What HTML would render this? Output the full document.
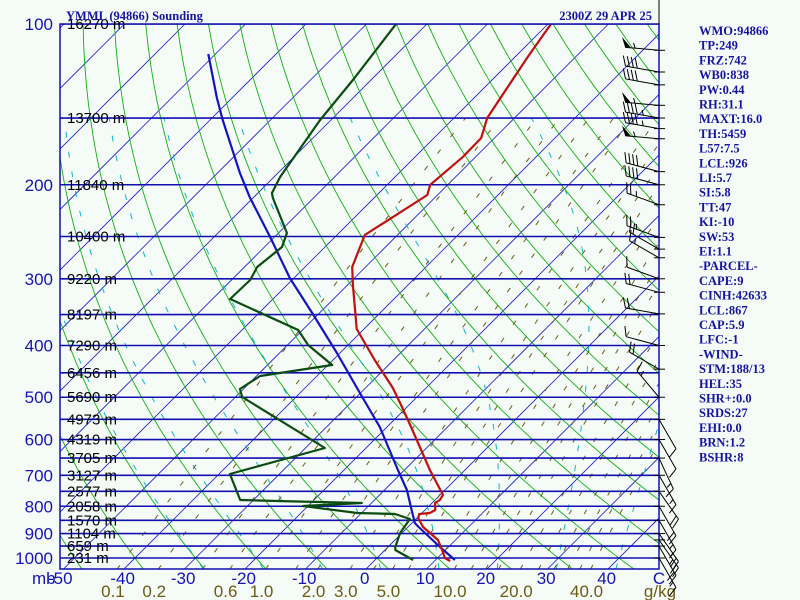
<!DOCTYPE html>
<html><head><meta charset="utf-8"><style>
html,body{margin:0;padding:0;background:#f5fbf7;}
svg{display:block}
.ax{font-family:"Liberation Sans",sans-serif;fill:#1414b4;font-size:17px}
.ht{font-family:"Liberation Sans",sans-serif;fill:#000;font-size:15px}
.mr{font-family:"Liberation Sans",sans-serif;fill:#6b5c14;font-size:17px}
.info{font-family:"Liberation Serif",serif;font-weight:bold;fill:#1414a0;font-size:12.5px}
</style></head><body>
<svg id="chart" width="800" height="600" viewBox="0 0 800 600" xmlns="http://www.w3.org/2000/svg">
<defs><clipPath id="plotclip"><rect x="60" y="24" width="599" height="545"/></clipPath></defs>
<rect x="0" y="0" width="800" height="600" fill="#f5fbf7"/>
<g id="grid" clip-path="url(#plotclip)"></g>
<g id="traces" clip-path="url(#plotclip)"></g>
<rect x="60" y="24" width="599" height="545" fill="none" stroke="#1010b0" stroke-width="1.5"/>
<g id="labels"></g>
<g id="barbs"></g>
<text x="66" y="20" class="info">YMML (94866) Sounding</text>
<text x="652" y="20" class="info" text-anchor="end">2300Z 29 APR 25</text>
<g id="info"></g>
</svg>
<script>
// ---- data ----
const isobars = [100,150,200,250,300,350,400,450,500,550,600,650,700,750,800,850,900,950,1000];
const heights = ["16270","13700","11840","10400","9220","8197","7290","6456","5690","4973","4319","3705","3127","2577","2058","1570","1104","659","231"];
const pressureLabels = [100,200,300,400,500,600,700,800,900,1000];
const tempTicks = [-40,-30,-20,-10,0,10,20,30,40];
const mixLabels = [0.1,0.2,0.6,1.0,2.0,3.0,5.0,10.0,20.0,40.0];
const mixLines = [0.1,0.2,0.4,0.6,1,1.5,2,3,4,5,6,8,10,12,14,16,20,24,28,32,36,40];

const tempP = [100,115.3,150,163.5,177.4,200,209,248.4,285.1,308.2,372.6,425.8,480.3,512.5,563.6,684.2,762.1,778.8,788.9,813.1,823.7,827.3,841.7,874.8,925.3,974.5,1000,1013];
const tempT = [-59.5,-57.9,-54.5,-52.2,-52.1,-52.9,-51.7,-55.4,-52.2,-49.1,-41.2,-33.1,-25.5,-21.8,-16.5,-5.8,0.5,0.8,0.5,1.7,1.3,-0.3,0.2,2.5,7.1,9.9,11.2,12.6];
const dewP = [100,127.3,151.3,193.4,207.3,211.8,246.3,261.6,285.1,301.6,327.3,374.2,399.1,435.1,456.2,482.5,499.4,622.3,696.1,778.8,782.2,788.9,799.2,823.7,827.3,845.3,898.0,953.7,966.1,1008.6];
const dewT = [-85.1,-83.0,-81.8,-79.0,-77.7,-76.7,-68.6,-67.1,-67.9,-66.9,-67.1,-50.7,-46.6,-39.3,-49.4,-50.6,-48.9,-26.8,-38.2,-32.2,-26.0,-11.6,-20.8,-10.7,-4.3,-1.0,-0.3,1.2,1.7,6.3];
const parcelP = [113.8,137.6,151.3,190.1,210.9,250.6,299.0,347.7,413.2,491.0,568.4,684.2,745.9,820.2,860.3,878.7,953.7,1008.6];
const parcelT = [-111.2,-102.5,-97.9,-86.3,-80.7,-70.7,-60.7,-51.2,-40.5,-30.1,-21.2,-11.1,-6.3,-1.8,0.5,2.1,8.6,13.2];

const barbP = [112,123,130,142,150,157,164,189,200,218,251,264,274,300,318,349,400,443,500,550,600,650,700,750,800,850,900,925,950,1000];
const barbDir = [275,280,280,275,280,280,275,285,285,290,290,300,300,290,285,280,285,300,320,150,150,155,150,145,150,150,145,145,150,150];
const barbSpd = [55,40,40,55,45,45,55,40,40,25,25,20,15,10,20,20,10,20,15,10,10,15,15,20,20,15,25,25,20,15];

const infoLines = ["WMO:94866","TP:249","FRZ:742","WB0:838","PW:0.44","RH:31.1","MAXT:16.0","TH:5459","L57:7.5","LCL:926","LI:5.7","SI:5.8","TT:47","KI:-10","SW:53","EI:1.1","-PARCEL-","CAPE:9","CINH:42633","LCL:867","CAP:5.9","LFC:-1","-WIND-","STM:188/13","HEL:35","SHR+:0.0","SRDS:27","EHI:0.0","BRN:1.2","BSHR:8"];

// ---- axes ----
const NS = "http://www.w3.org/2000/svg";
function yP(p){ return 24 + 534*Math.log10(p/100); }
function xT(T,p){ return 366 + 6.05*T + (569 - yP(p)); }
function mk(tag, attrs, parent){ const e=document.createElementNS(NS,tag); for(const k in attrs) e.setAttribute(k,attrs[k]); parent.appendChild(e); return e; }
function pathFrom(pts){ return pts.map((q,i)=>(i?"L":"M")+q[0].toFixed(1)+","+q[1].toFixed(1)).join(""); }

const grid = document.getElementById("grid");
for(let T=-160; T<=50; T+=10){
  const el = mk("line",{x1:xT(T,1050),y1:yP(1050),x2:xT(T,100),y2:yP(100),stroke:"#1a1ad0","stroke-width":0.8},grid);
  
  
}
for(let th=-60; th<=220; th+=10){
  const pts=[]; for(let p=1050;p>=100;p-=10){ const T=(th+273.15)*Math.pow(p/1000,0.2857)-273.15; pts.push([xT(T,p),yP(p)]); }
  const el = mk("path",{d:pathFrom(pts),fill:"none",stroke:"#10b010","stroke-width":0.9},grid);
  
  
}
function es(Tc){ return 6.112*Math.exp(17.67*Tc/(Tc+243.5)); }
function moistPts(T0){
  const Rd=287, Cp=1004, Lv=2.5e6, eps=0.622; const pts=[];
  const step=(T,p,dp)=>{ const Tk=T+273.15; const rs=eps*es(T)/(p-es(T)); const g=(Rd*Tk+Lv*rs)/(p*(Cp+Lv*Lv*rs*eps/(Rd*Tk*Tk))); return T+g*dp; };
  let Tb=T0; const low=[]; for(let p=1000;p<=1050;p+=5){ low.unshift([xT(Tb,p),yP(p)]); Tb=step(Tb,p,5); }
  pts.push(...low);
  let T=T0; for(let p=1000;p>=150;p-=5){ pts.push([xT(T,p),yP(p)]); T=step(T,p,-5); }
  return pts;
}
for(let T0=-30; T0<=40; T0+=10){
  const el = mk("path",{d:pathFrom(moistPts(T0)),fill:"none",stroke:"#10b4c8","stroke-width":1,"stroke-dasharray":"6 14"},grid);
  
  
}
function mixT(w,p){ const e=w*p/(622+w); const l=Math.log(e/6.112); return 243.5*l/(17.67-l); }
for(const w of mixLines){
  const pts=[]; for(let p=1050;p>=150;p-=10) pts.push([xT(mixT(w,p),p),yP(p)]);
  const el = mk("path",{d:pathFrom(pts),fill:"none",stroke:"#6b5c14","stroke-width":1,"stroke-dasharray":"5 16"},grid);
  
  
}
isobars.forEach(p=>{
  const el = mk("line",{x1:60,y1:yP(p),x2:659,y2:yP(p),stroke:"#1010b0","stroke-width":1.6},grid);
  
  
});

const tr = document.getElementById("traces");
function trace(P,T,color,name){
  const el = mk("path",{d:pathFrom(P.map((p,i)=>[xT(T[i],p),yP(p)])),fill:"none",stroke:color,"stroke-width":2.2,"stroke-linejoin":"round"},tr);
  
  
}
trace(parcelP,parcelT,"#1414c0","parcel-trace");
trace(dewP,dewT,"#0c4c10","dewpoint-trace");
trace(tempP,tempT,"#c01010","temperature-trace");

const lab = document.getElementById("labels");
pressureLabels.forEach(p=>{
  const el = mk("text",{x:53,y:yP(p)+6,class:"ax","text-anchor":"end"},lab); el.textContent=p;
  
  
});
isobars.forEach((p,i)=>{
  const el = mk("text",{x:67,y:yP(p)+5,class:"ht"},lab); el.textContent=heights[i]+" m";
  
  
});
{ const el = mk("text",{x:32,y:584,class:"ax"},lab); el.textContent="mb";
  
  
  const e2 = mk("text",{x:48,y:584,class:"ax"},lab); e2.textContent="-50";
  
   }
tempTicks.forEach(T=>{
  const el = mk("text",{x:xT(T,1050)-1,y:584,class:"ax","text-anchor":"middle"},lab); el.textContent=T;
  
  
});
{ const el = mk("text",{x:659,y:584,class:"ax","text-anchor":"middle"},lab); el.textContent="C";
  
   }
mixLabels.forEach(w=>{
  const el = mk("text",{x:xT(mixT(w,1050),1050)-4,y:597,class:"mr","text-anchor":"middle"},lab); el.textContent=w.toFixed(1);
  
  
});
{ const el = mk("text",{x:660,y:597,class:"mr","text-anchor":"middle"},lab); el.textContent="g/kg";
  
   }

const bg = document.getElementById("barbs");
mk("line",{x1:659,y1:0,x2:659,y2:24,stroke:"#000","stroke-width":1},bg);
barbP.forEach((p,i)=>{
  const y=yP(p), x=659, d=barbDir[i]*Math.PI/180, L=34;
  const ux=Math.sin(d), uy=-Math.cos(d);
  const g = mk("g",{},bg);
  
  
  mk("line",{x1:x-5,y1:y,x2:x+6,y2:y,stroke:"#000","stroke-width":1},g);
  const ex=x+ux*L, ey=y+uy*L;
  mk("line",{x1:x,y1:y,x2:ex,y2:ey,stroke:"#000","stroke-width":1},g);
  const fx=-uy*10+ux*4, fy=ux*10+uy*4;
  let s=barbSpd[i], pos=0;
  while(s>=50){ const bx=ex-ux*pos, by=ey-uy*pos; const cx=ex-ux*(pos+6), cy=ey-uy*(pos+6);
    mk("polygon",{points:`${bx},${by} ${bx+fx},${by+fy} ${cx},${cy}`,fill:"#000"},g); s-=50; pos+=8; }
  while(s>=10){ const bx=ex-ux*pos, by=ey-uy*pos; mk("line",{x1:bx,y1:by,x2:bx+fx,y2:by+fy,stroke:"#000","stroke-width":1},g); s-=10; pos+=4; }
  if(s>=5){ const bx=ex-ux*(pos+2), by=ey-uy*(pos+2); mk("line",{x1:bx,y1:by,x2:bx+fx/2,y2:by+fy/2,stroke:"#000","stroke-width":1},g); }
});

const info = document.getElementById("info");
infoLines.forEach((t,i)=>{
  const el = mk("text",{x:699,y:35+i*14.7,class:"info"},info); el.textContent=t;
  
  
});
</script>
</body></html>
